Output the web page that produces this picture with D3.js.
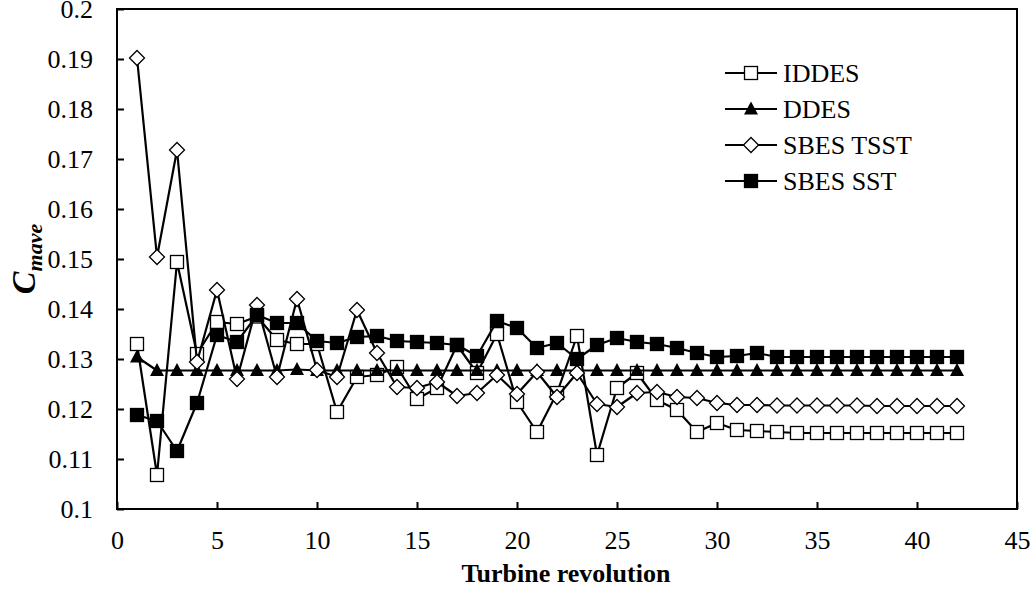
<!DOCTYPE html>
<html>
<head>
<meta charset="utf-8">
<script src="https://cdn.jsdelivr.net/npm/d3@7"></script>
<style>
	body { margin: 0; background: #fff; }
	svg text { font-family: "Liberation Serif", "Times New Roman", serif; }
</style>
</head>
<body>
<svg id="chart" width="1035" height="592"></svg>
<script>
// turbine revolution 1..42
const revolutions = d3.range(1, 43);

const iddes = [0.1330, 0.1068, 0.1494, 0.1310, 0.1374, 0.1370, 0.1385, 0.1338, 0.1330, 0.1330,
	0.1194, 0.1264, 0.1268, 0.1284, 0.1220, 0.1242, 0.1328, 0.1272, 0.1350, 0.1214,
	0.1154, 0.1232, 0.1346, 0.1108, 0.1242, 0.1272, 0.1218, 0.1198, 0.1154, 0.1172,
	0.1158, 0.1156, 0.1154, 0.1152, 0.1152, 0.1152, 0.1152, 0.1152, 0.1152, 0.1152,
	0.1152, 0.1152];

const ddes = [0.1304, 0.1277, 0.1277, 0.1277, 0.1277, 0.1277, 0.1277, 0.1277, 0.1279, 0.1277,
	0.1277, 0.1277, 0.1277, 0.1277, 0.1277, 0.1277, 0.1277, 0.1277, 0.1277, 0.1277,
	0.1277, 0.1277, 0.1277, 0.1277, 0.1277, 0.1277, 0.1277, 0.1277, 0.1277, 0.1277,
	0.1277, 0.1277, 0.1277, 0.1277, 0.1277, 0.1277, 0.1277, 0.1277, 0.1277, 0.1277,
	0.1277, 0.1277];

const sbesTsst = [0.1902, 0.1504, 0.1718, 0.1294, 0.1438, 0.1260, 0.1408, 0.1264, 0.1420, 0.1278,
	0.1264, 0.1398, 0.1312, 0.1244, 0.1242, 0.1254, 0.1226, 0.1232, 0.1268, 0.1230,
	0.1274, 0.1224, 0.1272, 0.1210, 0.1204, 0.1232, 0.1234, 0.1224, 0.1222, 0.1212,
	0.1208, 0.1208, 0.1207, 0.1207, 0.1207, 0.1207, 0.1207, 0.1206, 0.1206, 0.1206,
	0.1206, 0.1206];

const sbesSst = [0.1188, 0.1176, 0.1116, 0.1212, 0.1348, 0.1334, 0.1388, 0.1372, 0.1372, 0.1336,
	0.1332, 0.1344, 0.1346, 0.1336, 0.1334, 0.1332, 0.1328, 0.1306, 0.1376, 0.1362,
	0.1322, 0.1332, 0.1300, 0.1328, 0.1342, 0.1334, 0.1330, 0.1322, 0.1312, 0.1304,
	0.1306, 0.1312, 0.1304, 0.1304, 0.1304, 0.1304, 0.1304, 0.1304, 0.1304, 0.1304,
	0.1304, 0.1304];

const xTicks = [0, 5, 10, 15, 20, 25, 30, 35, 40, 45];
const yTicks = [0.1, 0.11, 0.12, 0.13, 0.14, 0.15, 0.16, 0.17, 0.18, 0.19, 0.2];

const seriesNames = ["IDDES", "DDES", "SBES TSST", "SBES SST"];
const seriesValues = [iddes, ddes, sbesTsst, sbesSst];
const seriesMarkers = ["openSquare", "triangle", "diamond", "square"];

const margin = { left: 117, right: 18, top: 9, bottom: 83 };
const width = 1035, height = 592;
const FONT = "Liberation Serif";

const svg = d3.select("#chart");

const x = d3.scaleLinear().domain([0, 45]).range([margin.left, width - margin.right]);
const y = d3.scaleLinear().domain([0.1, 0.2]).range([height - margin.bottom, margin.top]);

// frame
svg.append("rect")
	.attr("x", x(0)).attr("y", y(0.2))
	.attr("width", x(45) - x(0)).attr("height", y(0.1) - y(0.2))
	.attr("fill", "none").attr("stroke", "#000").attr("stroke-width", 2);

// axes, ticks pointing inwards
const xAxis = svg.append("g")
	.attr("transform", `translate(0,${y(0.1)})`)
	.call(d3.axisBottom(x).tickValues(xTicks).tickSizeInner(-7).tickSizeOuter(0).tickPadding(22));
const yAxis = svg.append("g")
	.attr("transform", `translate(${x(0)},0)`)
	.call(d3.axisLeft(y).tickValues(yTicks).tickSizeInner(-7).tickSizeOuter(0).tickPadding(24)
		.tickFormat(d => String(+d.toFixed(2))));

[xAxis, yAxis].forEach(a => {
	a.attr("font-family", FONT);
	a.select(".domain").remove();
	a.selectAll("line").attr("stroke", "#000").attr("stroke-width", 2);
	a.selectAll("text").attr("font-size", 26).attr("fill", "#000");
});
yAxis.selectAll("text").attr("dy", "0.33em");

// axis titles
svg.append("text")
	.attr("x", 566).attr("y", 582)
	.attr("text-anchor", "middle")
	.attr("font-size", 26).attr("font-weight", "bold")
	.text("Turbine revolution");

const yTitle = svg.append("text")
	.attr("transform", `translate(35,${(y(0.1) + y(0.2)) / 2}) rotate(-90)`)
	.attr("text-anchor", "middle")
	.attr("font-weight", "bold").attr("font-style", "italic");
yTitle.append("tspan").attr("font-size", 34).text("C");
yTitle.append("tspan").attr("font-size", 22).attr("dy", 7).text("mave");

function drawMarker(g, type, cx, cy) {
	if (type === "openSquare" || type === "square") {
		g.append("rect")
			.attr("x", cx - 6.5).attr("y", cy - 6.5)
			.attr("width", 13).attr("height", 13)
			.attr("fill", type === "square" ? "#000" : "#fff")
			.attr("stroke", "#000").attr("stroke-width", 1.3);
	} else if (type === "triangle") {
		g.append("path")
			.attr("d", `M${cx},${cy - 7.5}L${cx + 7},${cy + 5.5}L${cx - 7},${cy + 5.5}Z`)
			.attr("fill", "#000");
	} else {
		g.append("path")
			.attr("d", `M${cx},${cy - 7.5}L${cx + 7.5},${cy}L${cx},${cy + 7.5}L${cx - 7.5},${cy}Z`)
			.attr("fill", "#fff").attr("stroke", "#000").attr("stroke-width", 1.3);
	}
}

const line = d3.line()
	.x((d, i) => x(revolutions[i]))
	.y(d => y(d));

seriesValues.forEach((vals, s) => {
	const g = svg.append("g");
	g.append("path")
		.datum(vals)
		.attr("d", line)
		.attr("fill", "none")
		.attr("stroke", "#000")
		.attr("stroke-width", 2.2)
		.attr("stroke-linejoin", "round");
	vals.forEach((v, i) => drawMarker(g, seriesMarkers[s], x(revolutions[i]), y(v)));
});

// legend
const legend = svg.append("g");
seriesNames.forEach((name, s) => {
	const ly = 73 + s * 36;
	legend.append("line")
		.attr("x1", 725).attr("x2", 777).attr("y1", ly).attr("y2", ly)
		.attr("stroke", "#000").attr("stroke-width", 2.2);
	drawMarker(legend, seriesMarkers[s], 751, ly);
	legend.append("text")
		.attr("x", 783).attr("y", ly).attr("dy", "0.34em")
		.attr("font-size", 26)
		.text(name);
});
</script>
</body>
</html>
